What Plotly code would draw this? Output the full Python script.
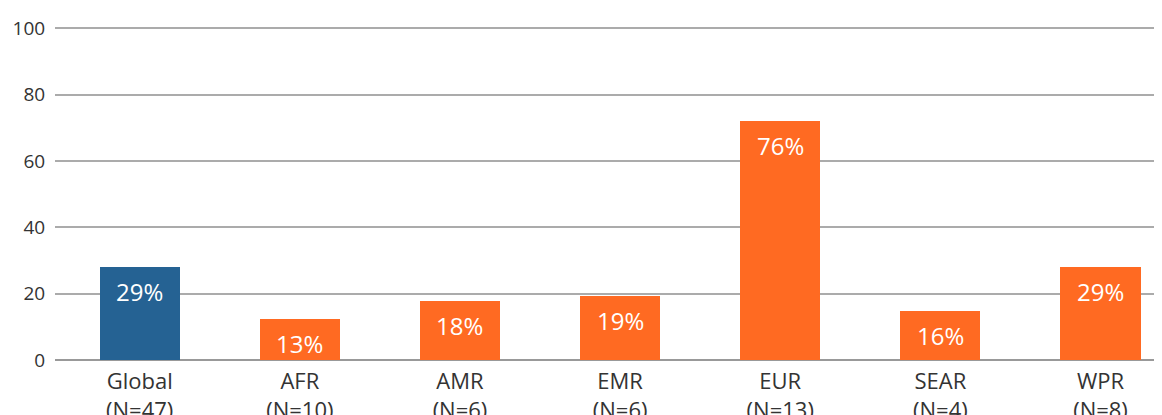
import plotly.graph_objects as go

categories = ["Global", "AFR", "AMR", "EMR", "EUR", "SEAR", "WPR"]
sample_sizes = ["N=47", "N=10", "N=6", "N=6", "N=13", "N=4", "N=8"]
bar_values = [28.0, 12.3, 17.7, 19.2, 72.0, 14.7, 28.0]
bar_labels = ["29%", "13%", "18%", "19%", "76%", "16%", "29%"]
y_ticks = [0, 20, 40, 60, 80, 100]

BLUE = "#256293"
ORANGE = "#FF6A22"
colors = [BLUE] + [ORANGE] * (len(categories) - 1)

xpos = list(range(len(categories)))

fig = go.Figure()
fig.add_trace(go.Bar(
    x=xpos, y=bar_values, marker=dict(color=colors, line=dict(width=0)),
    width=0.5, hoverinfo="skip", showlegend=False,
))

for x, v, t in zip(xpos, bar_values, bar_labels):
    fig.add_annotation(x=x, y=v, text=t, showarrow=False, yanchor="top",
                       yshift=-6, font=dict(family="Open Sans", size=24, color="white"))

fig.update_layout(
    width=1162, height=415,
    margin=dict(l=47, r=0, t=17, b=63),
    paper_bgcolor="white", plot_bgcolor="white",
    font=dict(family="Open Sans", color="#333333"),
    bargap=0,
)
fig.update_xaxes(
    range=[-0.529, 6.434], automargin=False,
    tickvals=xpos,
    ticktext=[f"{c}<br>({n})" for c, n in zip(categories, sample_sizes)],
    tickfont=dict(size=22, color="#333333"),
    showgrid=False, zeroline=False, showline=False,
    ticks="outside", ticklen=2, tickcolor="rgba(0,0,0,0)",
)
fig.update_yaxes(
    range=[0, 101], automargin=False, tickvals=y_ticks,
    tickfont=dict(size=19, color="#333333"),
    showgrid=True, gridcolor="#ABABAB", gridwidth=1.5,
    zeroline=True, zerolinecolor="#999999", zerolinewidth=2,
    showline=False,
    ticks="outside", ticklen=5, tickcolor="rgba(0,0,0,0)",
)

fig.write_html("out.html")
